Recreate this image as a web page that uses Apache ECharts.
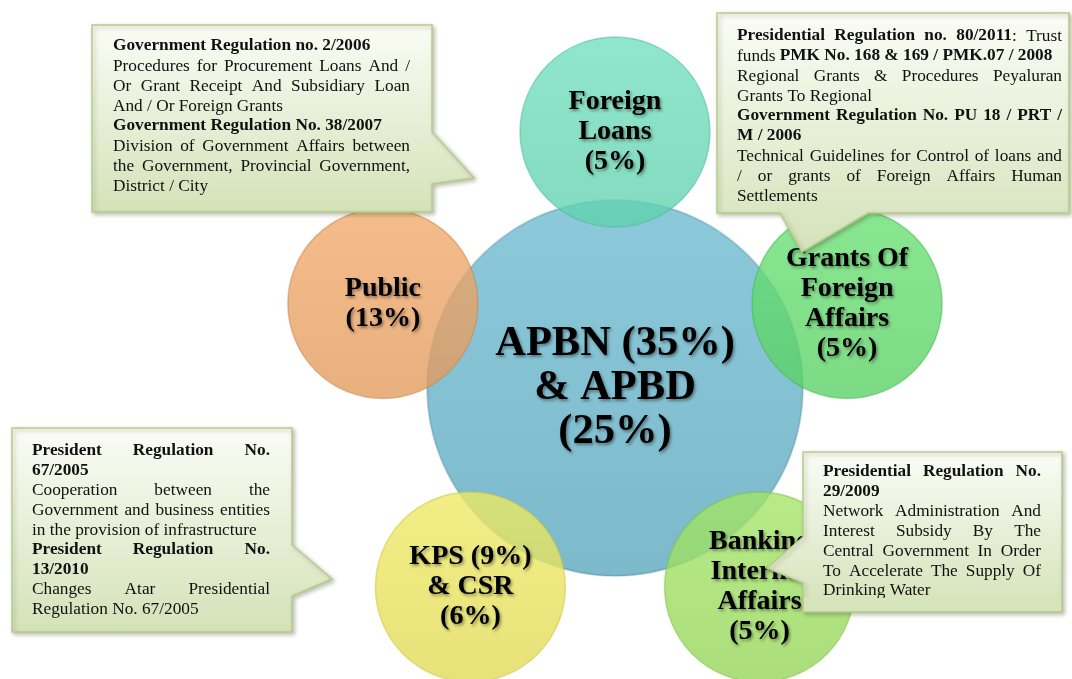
<!DOCTYPE html>
<html style="height: 100%">
<head>
<meta charset="utf-8">
<script src="https://cdn.jsdelivr.net/npm/echarts@6/dist/echarts.min.js"></script>
<title>Funding sources</title>
</head>
<body style="height: 100%; margin: 0; background: #fff">
<div id="container" style="width: 1072px; height: 679px"></div>
<script type="text/javascript">

// hub and satellites
let hubLabel = 'APBN (35%)\n& APBD\n(25%)';
let satLabels = ['Foreign\nLoans\n(5%)', 'Grants Of\nForeign\nAffairs\n(5%)', 'Banking\nInternal\nAffairs\n(5%)', 'KPS (9%)\n& CSR\n(6%)', 'Public\n(13%)'];
let satAngles = [0, 70, 144, 216, 290];
let satDist = [256, 247, 246, 246, 247];
let satColors = [[104, 216, 181], [96, 216, 106], [155, 221, 93], [231, 226, 91], [234, 161, 99]];

// callout texts, *...* = bold, second value = justified line
let box1Lines = [
    ['*Government Regulation no. 2/2006*', false],
    ['Procedures for Procurement Loans And /', true],
    ['Or Grant Receipt And Subsidiary Loan', true],
    ['And / Or Foreign Grants', false],
    ['*Government Regulation No. 38/2007*', false],
    ['Division of Government Affairs between', true],
    ['the Government, Provincial Government,', true],
    ['District / City', false]
];
let box2Lines = [
    ['*Presidential Regulation no. 80/2011*: Trust', true],
    ['funds *PMK No. 168 & 169 / PMK.07 / 2008*', false],
    ['Regional Grants & Procedures Peyaluran', true],
    ['Grants To Regional', false],
    ['*Government Regulation No. PU 18 / PRT /*', true],
    ['*M / 2006*', false],
    ['Technical Guidelines for Control of loans and', true],
    ['/ or grants of Foreign Affairs Human', true],
    ['Settlements', false]
];
let box3Lines = [
    ['*President Regulation No.*', true],
    ['*67/2005*', false],
    ['Cooperation between the', true],
    ['Government and business entities', true],
    ['in the provision of infrastructure', false],
    ['*President Regulation No.*', true],
    ['*13/2010*', false],
    ['Changes Atar Presidential', true],
    ['Regulation No. 67/2005', false]
];
let box4Lines = [
    ['*Presidential Regulation No.*', true],
    ['*29/2009*', false],
    ['Network Administration And', true],
    ['Interest Subsidy By The', true],
    ['Central Government In Order', true],
    ['To Accelerate The Supply Of', true],
    ['Drinking Water', false]
];

let serif = "'Liberation Serif', 'Times New Roman', serif";
let hub = [615, 388];

function rgba(c, a, d) {
    d = d || 0;
    return 'rgba(' + Math.min(255, c[0] + d) + ',' + Math.min(255, c[1] + d) + ',' + Math.min(255, c[2] + d) + ',' + a + ')';
}
function grad(c, a) {
    return {
        type: 'linear', x: 0, y: 0, x2: 0, y2: 1,
        colorStops: [{offset: 0, color: rgba(c, a, 8)}, {offset: 1, color: rgba(c, a, -8)}]
    };
}

let shadowLabel = {
    textShadowColor: 'rgba(0,0,0,0.4)', textShadowBlur: 3,
    textShadowOffsetX: 1.5, textShadowOffsetY: 2
};

let points = [{
    value: hub,
    symbolSize: 376,
    name: hubLabel,
    itemStyle: {color: grad([132, 193, 210], 1), borderColor: 'rgba(60,120,140,0.25)', borderWidth: 2},
    label: Object.assign({fontSize: 42.5, lineHeight: 44}, shadowLabel)
}];
for (let i = 0; i < satLabels.length; i++) {
    let a = satAngles[i] * Math.PI / 180;
    points.push({
        value: [hub[0] + satDist[i] * Math.sin(a), hub[1] - satDist[i] * Math.cos(a)],
        symbolSize: 190,
        name: satLabels[i],
        itemStyle: {color: grad(satColors[i], 0.78), borderColor: rgba(satColors[i], 0.5, -30), borderWidth: 1.5},
        label: Object.assign({fontSize: 28, lineHeight: 30}, shadowLabel)
    });
}

// text measuring for justified callout lines
let ctx = document.createElement('canvas').getContext('2d');
function fontOf(bold) { return (bold ? 'bold ' : '') + '17.3px ' + serif; }
function measure(t, bold) { ctx.font = fontOf(bold); return ctx.measureText(t).width; }

function boxText(lines, x0, width, y0, lh) {
    let out = [];
    lines.forEach(function (ln, li) {
        let segs = ln[0].split('*');
        let words = [[]];
        segs.forEach(function (s, si) {
            let parts = s.split(' ');
            parts.forEach(function (p, k) {
                if (k > 0) words.push([]);
                if (p) words[words.length - 1].push({t: p, b: si % 2 === 1});
            });
        });
        words = words.filter(function (w) { return w.length; });
        let total = 0;
        words.forEach(function (w) { w.forEach(function (s) { s.w = measure(s.t, s.b); total += s.w; }); });
        let gap = measure(' ', false);
        if (ln[1] && words.length > 1) gap = (width - total) / (words.length - 1);
        let x = x0, y = y0 + li * lh;
        words.forEach(function (w) {
            w.forEach(function (s) {
                out.push({type: 'text', x: x, y: y, z: 101,
                    style: {text: s.t, font: fontOf(s.b), fill: '#111', verticalAlign: 'middle'}});
                x += s.w;
            });
            x += gap;
        });
    });
    return out;
}

function callout(pts) {
    return {
        type: 'polygon', z: 100,
        shape: {points: pts},
        style: {
            fill: {type: 'linear', x: 0, y: 0, x2: 0, y2: 1,
                colorStops: [{offset: 0, color: '#fbfcf6'}, {offset: 1, color: '#d4e2b8'}]},
            stroke: '#b6cc8c', lineWidth: 1.5,
            shadowColor: 'rgba(70,80,50,0.35)', shadowBlur: 4, shadowOffsetX: 2, shadowOffsetY: 2
        }
    };
}

let graphics = [
    callout([[92, 25], [432, 25], [432, 132], [474, 178], [432, 184], [432, 212], [92, 212]]),
    callout([[717, 13], [1069, 13], [1069, 213], [868, 213], [802, 252], [780, 213], [717, 213]]),
    callout([[12, 428], [292, 428], [292, 545], [332, 579], [292, 596], [292, 632], [12, 632]]),
    callout([[803, 452], [1062, 452], [1062, 612], [803, 612], [803, 583], [767, 568], [803, 537]])
].concat(
    boxText(box1Lines, 113, 297, 46, 20),
    boxText(box2Lines, 737, 325, 36, 20),
    boxText(box3Lines, 32, 238, 451, 19.8),
    boxText(box4Lines, 823, 218, 472, 19.8),
    [{type: 'rect', z: 102, shape: {x: 804, y: 598, width: 257, height: 13}, style: {fill: '#d6e4bc'}}]
);

let chart = echarts.init(document.getElementById('container'));
chart.setOption({
    animation: false,
    grid: {left: 0, right: 0, top: 0, bottom: 0},
    xAxis: {type: 'value', min: 0, max: 1072, show: false},
    yAxis: {type: 'value', min: 0, max: 679, inverse: true, show: false},
    series: [{
        type: 'scatter',
        symbol: 'circle',
        data: points,
        itemStyle: {opacity: 1},
        label: {
            show: true, position: 'inside', formatter: '{b}',
            fontFamily: serif, fontWeight: 'bold', color: '#000'
        },
        emphasis: {disabled: true}
    }],
    graphic: graphics
});
</script>
</body>
</html>
